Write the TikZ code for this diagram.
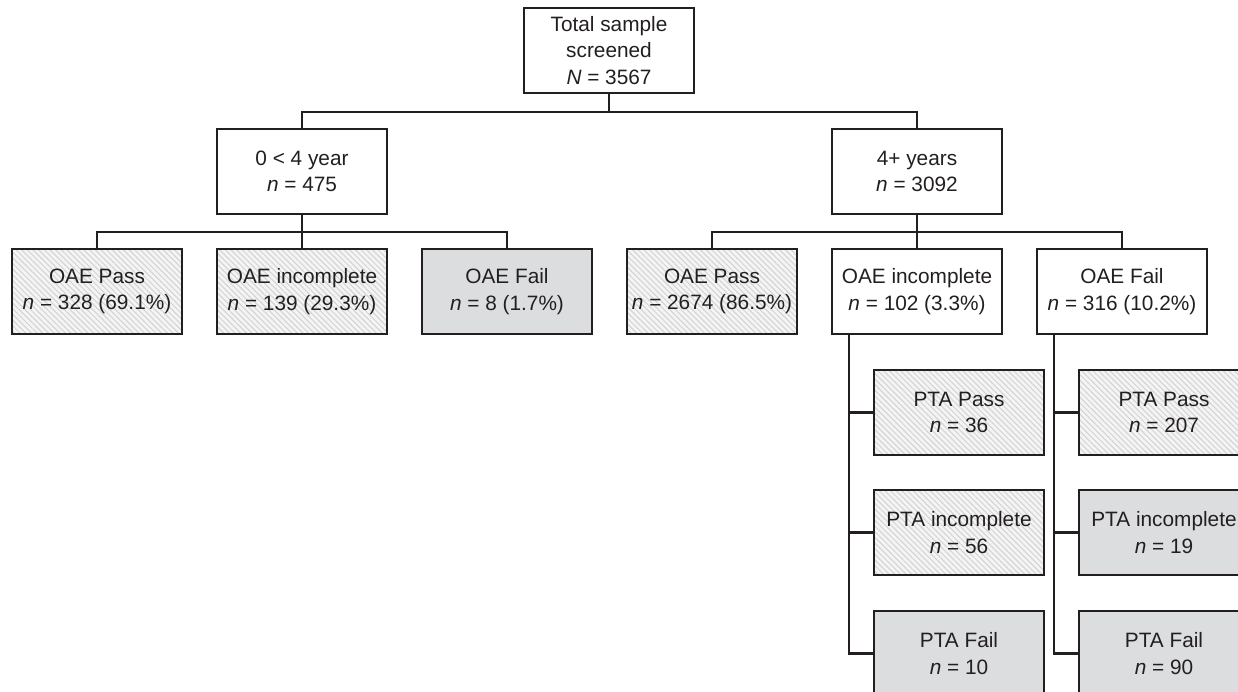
\documentclass[tikz,border=0pt]{standalone}
\usepackage{fontspec}
\setmainfont{Liberation Sans}
\usetikzlibrary{patterns.meta}
\definecolor{ink}{HTML}{231F20}
\definecolor{failgray}{HTML}{DCDDDF}
\definecolor{hatchbg}{HTML}{F4F4F4}
\definecolor{hatchline}{HTML}{D2D2D2}
\tikzset{
  box/.style={draw=ink, line width=2.4bp, minimum width=170bp, minimum height=85bp,
    inner sep=0pt, align=center, text=ink, font=\fontsize{20.8bp}{26.5bp}\selectfont},
  plain/.style={box, fill=white},
  hatched/.style={box, preaction={fill=hatchbg},
    pattern={Lines[angle=-45,distance=4bp,line width=1bp]}, pattern color=hatchline},
  grayed/.style={box, fill=failgray},
  link/.style={draw=ink, line width=2.4bp}
}
\begin{document}
\begin{tikzpicture}[x=1bp,y=-1bp]
\useasboundingbox (0,0) rectangle (1238,692);
\clip (0,0) rectangle (1238,692);
\fill[white] (0,0) rectangle (1238,692);

% level 1
\node[plain] (top) at (609,50.5) {Total sample\\screened\\\textit{N} = 3567};
% level 2
\node[plain] (A) at (302,171.5) {0 {\textless} 4 year\\\textit{n} = 475};
\node[plain] (B) at (917,171.5) {4+ years\\\textit{n} = 3092};
% level 3
\node[hatched] (L1) at (97,291.5) {OAE Pass\\\textit{n} = 328 (69.1\%)};
\node[hatched] (L2) at (302,291.5) {OAE incomplete\\\textit{n} = 139 (29.3\%)};
\node[grayed] (L3) at (507,291.5) {OAE Fail\\\textit{n} = 8 (1.7\%)};
\node[hatched] (L4) at (712,291.5) {OAE Pass\\\textit{n} = 2674 (86.5\%)};
\node[plain] (L5) at (917,291.5) {OAE incomplete\\\textit{n} = 102 (3.3\%)};
\node[plain] (L6) at (1122,291.5) {OAE Fail\\\textit{n} = 316 (10.2\%)};
% PTA column under OAE incomplete
\node[hatched] (P1) at (959,412.5) {PTA Pass\\\textit{n} = 36};
\node[hatched] (P2) at (959,532.5) {PTA incomplete\\\textit{n} = 56};
\node[grayed] (P3) at (959,653.5) {PTA Fail\\\textit{n} = 10};
% PTA column under OAE Fail
\node[hatched] (Q1) at (1164,412.5) {PTA Pass\\\textit{n} = 207};
\node[grayed] (Q2) at (1164,532.5) {PTA incomplete\\\textit{n} = 19};
\node[grayed] (Q3) at (1164,653.5) {PTA Fail\\\textit{n} = 90};

% junctions
\coordinate (j0) at (609,112);
\coordinate (jA) at (302,232);
\coordinate (jB) at (917,232);
\coordinate (vA) at (849,334);
\coordinate (vB) at (1054,334);

% connectors
\draw[link] (top.south) -- (j0);
\draw[link] (A.north) |- (j0) -| (B.north);
\draw[link] (A.south) -- (L2.north);
\draw[link] (L1.north) |- (jA) -| (L3.north);
\draw[link] (B.south) -- (L5.north);
\draw[link] (L4.north) |- (jB) -| (L6.north);
\draw[link] (vA) |- (P3.west);
\draw[link] (vA |- P1.west) -- (P1.west);
\draw[link] (vA |- P2.west) -- (P2.west);
\draw[link] (vB) |- (Q3.west);
\draw[link] (vB |- Q1.west) -- (Q1.west);
\draw[link] (vB |- Q2.west) -- (Q2.west);
\end{tikzpicture}
\end{document}
